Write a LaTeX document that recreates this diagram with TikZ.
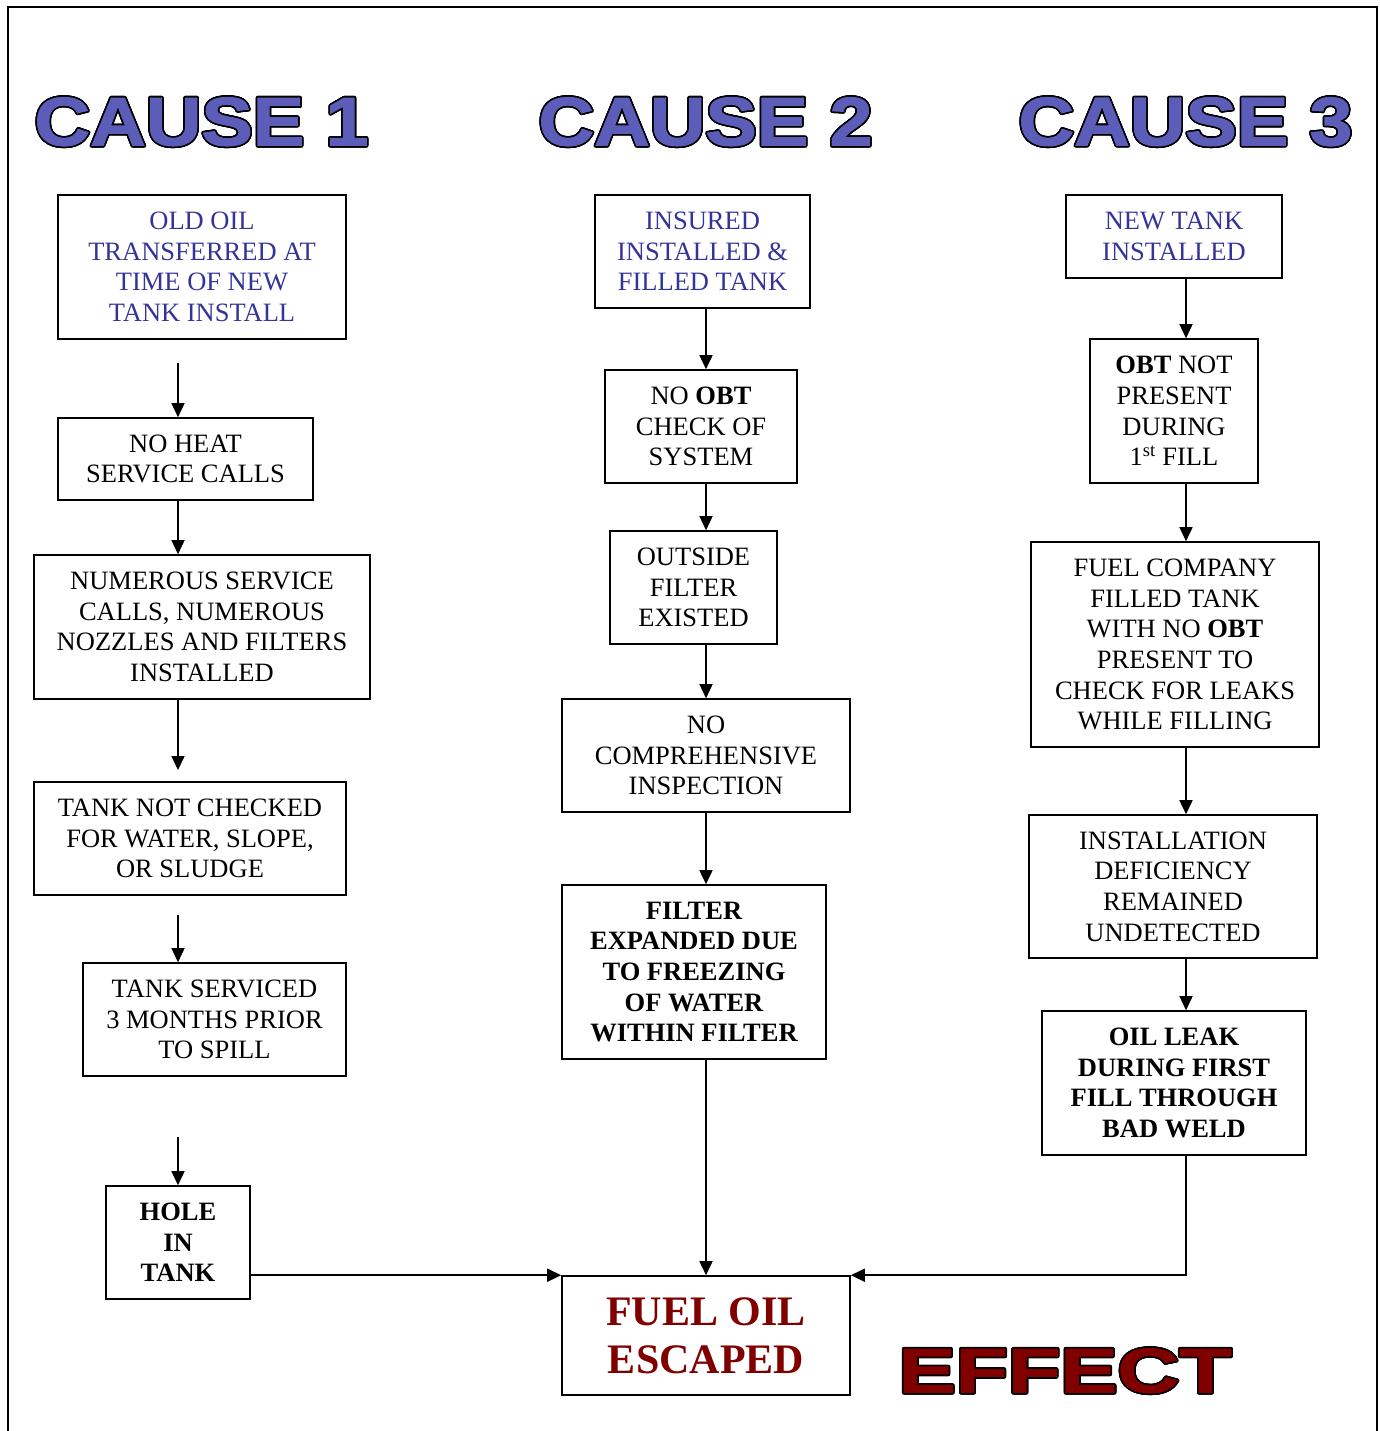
\documentclass[tikz,border=0pt]{standalone}
\usepackage{fontspec}
\setmainfont{Liberation Serif}
\newfontfamily\headfont{Liberation Sans Bold}[FakeBold=1.5]
\usepackage[copies]{contour}
\contourlength{1.6pt}
\contournumber{24}
\usetikzlibrary{arrows.meta}
\definecolor{txtblue}{RGB}{51,51,153}
\definecolor{headblue}{RGB}{92,92,185}
\definecolor{darkred}{RGB}{128,0,0}
\begin{document}
\begin{tikzpicture}[x=1pt,y=-1pt,
  box/.style={draw, line width=1.6pt, inner sep=0pt, align=center,
    font=\fontsize{26.5}{30.7}\selectfont},
  bluetext/.style={text=txtblue},
  arr/.style={line width=1.6pt, -{Triangle[length=14pt,width=13pt]}},
  heading/.style={inner sep=0pt, text=headblue},
  effecthead/.style={inner sep=0pt, text=darkred}
]
\useasboundingbox (0,0) rectangle (1379,1431);
% frame
\draw[line width=1.8pt] (8,1440) -- (8,7) -- (1377,7) -- (1377,1440);

% headings
\node[heading] (h1) at (201.5,122.5) {\contour{black}{\resizebox{334pt}{48pt}{\headfont CAUSE 1}}};
\node[heading] (h2) at (705.5,122.5) {\contour{black}{\resizebox{334pt}{48pt}{\headfont CAUSE 2}}};
\node[heading] (h3) at (1185.5,122.5) {\contour{black}{\resizebox{334pt}{48pt}{\headfont CAUSE 3}}};
\node[effecthead] (eff) at (1065,1371.5) {\contour{black}{\resizebox{333pt}{44pt}{\headfont EFFECT}}};

% column 1
\node[box,bluetext,minimum width=288pt,minimum height=144pt] (B1) at (202,267) {OLD OIL\\TRANSFERRED AT\\TIME OF NEW\\TANK INSTALL};
\node[box,minimum width=255pt,minimum height=82pt] (B2) at (185.5,459) {NO HEAT\\SERVICE CALLS};
\node[box,minimum width=336pt,minimum height=144pt] (B3) at (202,627) {NUMEROUS SERVICE\\CALLS, NUMEROUS\\NOZZLES AND FILTERS\\INSTALLED};
\node[box,minimum width=312pt,minimum height=113pt] (B4) at (190,838.5) {TANK NOT CHECKED\\FOR WATER, SLOPE,\\OR SLUDGE};
\node[box,minimum width=263pt,minimum height=113pt] (B5) at (214.5,1019.5) {TANK SERVICED\\3 MONTHS PRIOR\\TO SPILL};
\node[box,font=\fontsize{26.5}{30.7}\selectfont\bfseries,minimum width=144pt,minimum height=113pt] (B6) at (178,1242.5) {HOLE\\IN\\TANK};

% column 2
\node[box,bluetext,minimum width=215pt,minimum height=113pt] (C1) at (702.5,251.5) {INSURED\\INSTALLED \&\\FILLED TANK};
\node[box,minimum width=192pt,minimum height=113pt] (C2) at (701,426.5) {NO \textbf{OBT}\\CHECK OF\\SYSTEM};
\node[box,minimum width=167pt,minimum height=113pt] (C3) at (693.5,587.5) {OUTSIDE\\FILTER\\EXISTED};
\node[box,minimum width=288pt,minimum height=113pt] (C4) at (706,755.5) {NO\\COMPREHENSIVE\\INSPECTION};
\node[box,font=\fontsize{26.5}{30.7}\selectfont\bfseries,minimum width=264pt,minimum height=174pt] (C5) at (694,972) {FILTER\\EXPANDED DUE\\TO FREEZING\\OF WATER\\WITHIN FILTER};
\node[box,text=darkred,font=\fontsize{42}{48}\selectfont\bfseries,minimum width=288pt,minimum height=119pt] (E) at (706,1335.5) {FUEL OIL\\ESCAPED};

% column 3
\node[box,bluetext,minimum width=216pt,minimum height=83pt] (D1) at (1174,236.5) {NEW TANK\\INSTALLED};
\node[box,minimum width=168pt,minimum height=144pt] (D2) at (1174,411) {\textbf{OBT} NOT\\PRESENT\\DURING\\1\textsuperscript{st} FILL};
\node[box,minimum width=288pt,minimum height=205pt] (D3) at (1175,644.5) {FUEL COMPANY\\FILLED TANK\\WITH NO \textbf{OBT}\\PRESENT TO\\CHECK FOR LEAKS\\WHILE FILLING};
\node[box,minimum width=288pt,minimum height=143pt] (D4) at (1173,886.5) {INSTALLATION\\DEFICIENCY\\REMAINED\\UNDETECTED};
\node[box,font=\fontsize{26.5}{30.7}\selectfont\bfseries,minimum width=264pt,minimum height=144pt] (D5) at (1174,1083) {OIL LEAK\\DURING FIRST\\FILL THROUGH\\BAD WELD};

% connector columns and free ends
\coordinate (col1) at (178,0);
\coordinate (col2) at (706,0);
\coordinate (col3) at (1186,0);
\coordinate (a1) at (178,363);
\coordinate (a2) at (178,770);
\coordinate (a3) at (178,915);
\coordinate (a4) at (178,1137);

% column 1 arrows
\draw[arr] (a1) -- (col1 |- B2.north);
\draw[arr] (col1 |- B2.south) -- (col1 |- B3.north);
\draw[arr] (col1 |- B3.south) -- (a2);
\draw[arr] (a3) -- (col1 |- B5.north);
\draw[arr] (a4) -- (col1 |- B6.north);
\draw[arr] (B6.east |- E.north west) -- (E.north west);

% column 2 arrows
\draw[arr] (col2 |- C1.south) -- (col2 |- C2.north);
\draw[arr] (col2 |- C2.south) -- (col2 |- C3.north);
\draw[arr] (col2 |- C3.south) -- (col2 |- C4.north);
\draw[arr] (col2 |- C4.south) -- (col2 |- C5.north);
\draw[arr] (col2 |- C5.south) -- (E.north);

% column 3 arrows
\draw[arr] (col3 |- D1.south) -- (col3 |- D2.north);
\draw[arr] (col3 |- D2.south) -- (col3 |- D3.north);
\draw[arr] (col3 |- D3.south) -- (col3 |- D4.north);
\draw[arr] (col3 |- D4.south) -- (col3 |- D5.north);
\draw[arr] (col3 |- D5.south) -- (col3 |- E.north east) -- (E.north east);
\end{tikzpicture}
\end{document}
